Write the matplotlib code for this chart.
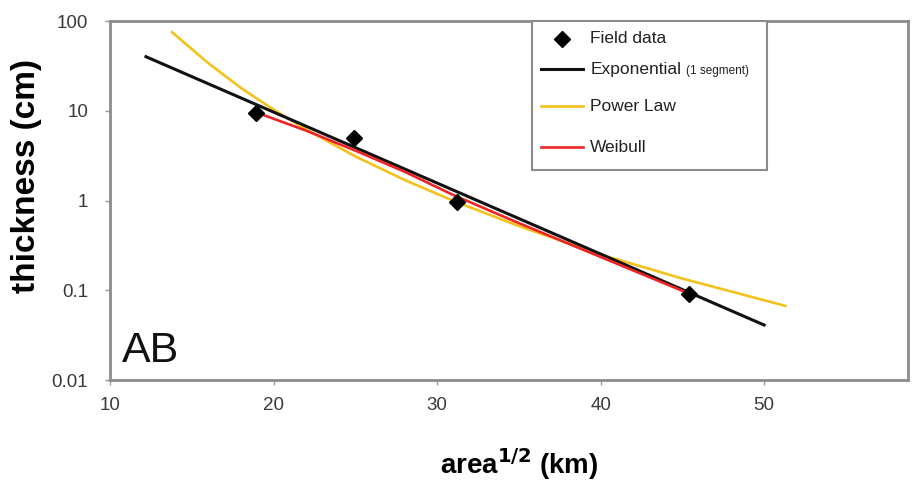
import matplotlib
matplotlib.use("Agg")
import matplotlib.pyplot as plt
from matplotlib.lines import Line2D
from matplotlib.patches import Rectangle

plt.rcParams['font.family'] = ['Liberation Sans', 'DejaVu Sans']

# Field data
field_x = [18.9, 24.9, 31.2, 45.4]
field_y = [9.4, 5.0, 0.97, 0.091]

# Exponential (1 segment) fit - straight on log axis
exp_x = [12.2, 50.0]
exp_y = [40.0, 0.041]

# Power law fit
pow_x = [13.8, 16, 18, 20, 22, 25, 28, 31, 35, 40, 45, 51.3]
pow_y = [75, 34, 18, 10.3, 6.2, 3.1, 1.7, 0.99, 0.52, 0.25, 0.135, 0.067]

# Weibull fit
wei_x = [18.8, 22, 25, 28, 31, 35, 40, 45.4]
wei_y = [9.8, 6.0, 3.6, 2.1, 1.15, 0.56, 0.235, 0.092]

xticks = [10, 20, 30, 40, 50]
yticks = [0.01, 0.1, 1, 10, 100]
ytick_labels = ['0.01', '0.1', '1', '10', '100']

legend_labels = ['Field data', 'Exponential', 'Power Law', 'Weibull']
legend_note = '(1 segment)'

c_exp = '#111111'
c_pow = '#F5C21B'
c_wei = '#EE2424'

fig = plt.figure(figsize=(9.19, 4.90), dpi=100)
ax = fig.add_axes([110/919, 1-380/490, (908-110)/919, (380-21)/490])

ax.plot(exp_x, exp_y, color=c_exp, lw=2.2, zorder=3)
ax.plot(pow_x, pow_y, color=c_pow, lw=1.9, zorder=2)
ax.plot(wei_x, wei_y, color=c_wei, lw=1.9, zorder=4)
ax.plot(field_x, field_y, 'D', color='black', ms=8, ls='none', zorder=5)

ax.set_yscale('log')
ax.set_xlim(10, 58.8)
ax.set_ylim(0.01, 100)
ax.set_xticks(xticks)
ax.set_yticks(yticks)
ax.set_yticklabels(ytick_labels)
ax.minorticks_off()

for sp in ax.spines.values():
    sp.set_color('#8c8c8c')
    sp.set_linewidth(2.0)
ax.tick_params(axis='both', colors='#9a9a9a', length=3.6, width=1, labelsize=13.5,
               labelcolor='#3a3a3a')
ax.tick_params(axis='y', pad=12)
ax.tick_params(axis='x', pad=9)

ax.set_ylabel('thickness (cm)', fontsize=24, fontweight='bold')
ax.yaxis.set_label_coords(-0.085, 0.567)
ax.set_xlabel(r'area$^{\mathbf{1/2}}$ (km)', fontsize=20, fontweight='bold', va='top')
ax.xaxis.set_label_coords(0.5125, -0.185)

ax.text(0.015, 0.050, 'AB', transform=ax.transAxes, fontsize=31, color='#111111',
        va='baseline', ha='left')

# Legend (drawn in axes coordinates)
T = ax.transAxes
ax.add_patch(Rectangle((0.529, 0.585), 0.294, 0.415, transform=T, facecolor='white',
                       edgecolor='#8c8c8c', lw=1.5, zorder=6, clip_on=False))
row_y = [0.950, 0.866, 0.763, 0.649]
hx0, hx1, tx = 0.540, 0.593, 0.602
ax.add_line(Line2D([0.566], [row_y[0]], marker='D', ms=8, color='black', ls='none',
                   transform=T, zorder=7))
for yy, col, lw in zip(row_y[1:], [c_exp, c_pow, c_wei], [2.2, 1.9, 1.9]):
    ax.add_line(Line2D([hx0, hx1], [yy, yy], color=col, lw=lw, transform=T, zorder=7))
for yy, lab in zip(row_y, legend_labels):
    ax.text(tx, yy, lab, transform=T, fontsize=12.5, color='#222222', va='center',
            ha='left', zorder=8)
ax.text(0.722, row_y[1] - 0.013, legend_note, transform=T, fontsize=8.5, color='#222222',
        va='baseline', ha='left', zorder=8)

fig.savefig('out.png', dpi=100)
